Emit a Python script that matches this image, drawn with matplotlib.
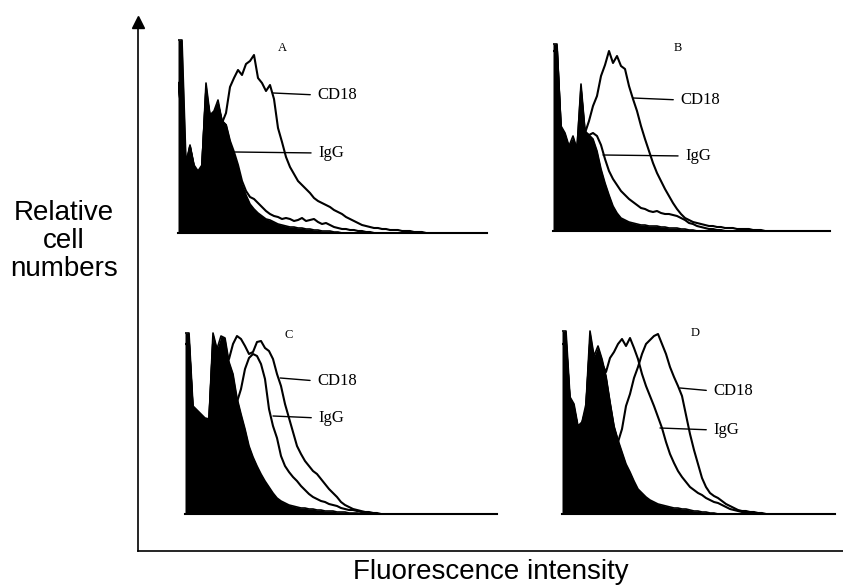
import numpy as np
import matplotlib.pyplot as plt

# relative cell counts per channel (one channel = 4 px)
a_ctrl = [193, 193, 70, 88, 68, 62, 68, 150, 118, 122, 133, 112, 108, 91, 78, 64, 48, 38, 29, 24,
          20, 17, 14, 13, 11, 9, 8, 7, 6, 6, 5, 5, 4, 4, 3, 3, 2, 2, 2, 1, 1, 0]
a_igg = [150, 120, 66, 86, 66, 60, 66, 140, 116, 120, 128, 112, 108, 92, 81, 68, 52, 42, 36, 34,
         30, 26, 22, 19, 17, 16, 14, 15, 14, 12, 13, 15, 12, 13, 14, 11, 9, 10, 8, 6,
         5, 4, 4, 3, 3, 2, 2, 1, 1, 0]
a_cd18 = [150, 120, 66, 86, 66, 60, 66, 140, 116, 120, 128, 110, 120, 146, 155, 163, 158, 169, 172, 178,
          155, 150, 142, 148, 134, 105, 91, 76, 66, 59, 52, 48, 44, 40, 35, 32, 30, 28, 26, 23,
          21, 19, 16, 14, 12, 10, 8, 7, 6, 5, 5, 4, 4, 3, 3, 3, 2, 2, 2, 1,
          1, 1, 0]

b_ctrl = [187, 187, 105, 98, 85, 95, 82, 147, 100, 96, 92, 80, 62, 48, 36, 25, 18, 13, 11, 9,
          8, 7, 6, 6, 5, 5, 5, 4, 4, 3, 3, 3, 2, 2, 1, 1, 0]
b_igg = [180, 180, 100, 95, 82, 90, 80, 120, 98, 96, 98, 95, 86, 72, 60, 52, 46, 40, 36, 32,
         29, 26, 23, 22, 20, 19, 20, 18, 17, 17, 16, 15, 13, 11, 8, 7, 5, 4, 3, 2,
         2, 1, 1, 0]
b_cd18 = [180, 180, 100, 95, 82, 90, 80, 140, 98, 110, 125, 135, 155, 166, 180, 168, 175, 165, 162, 145,
          132, 120, 105, 92, 80, 68, 58, 50, 42, 35, 28, 22, 17, 13, 11, 9, 8, 7, 6, 5,
          5, 4, 4, 3, 3, 3, 2, 2, 2, 2, 1, 1, 1, 0]

c_ctrl = [181, 181, 108, 104, 100, 96, 95, 181, 165, 178, 176, 152, 140, 116, 100, 85, 68, 57, 48, 40,
          33, 27, 21, 16, 13, 11, 9, 8, 7, 6, 6, 5, 5, 4, 4, 3, 3, 3, 2, 2,
          2, 1, 1, 1, 0]
c_igg = [170, 170, 100, 100, 98, 92, 90, 170, 160, 170, 160, 145, 130, 112, 125, 145, 156, 160, 158, 150,
         135, 105, 88, 76, 58, 48, 42, 37, 33, 28, 24, 20, 17, 15, 13, 12, 10, 9, 8, 6,
         5, 4, 4, 3, 2, 2, 1, 1, 0]
c_cd18 = [170, 170, 100, 100, 98, 92, 90, 170, 160, 170, 160, 155, 170, 178, 175, 168, 160, 162, 172, 173,
          166, 163, 155, 140, 128, 110, 96, 82, 68, 60, 53, 48, 43, 40, 35, 30, 25, 21, 17, 12,
          9, 7, 5, 4, 3, 2, 2, 1, 1, 0]

d_ctrl = [183, 183, 117, 110, 88, 92, 110, 183, 158, 168, 155, 138, 112, 88, 74, 62, 50, 42, 33, 25,
          21, 17, 14, 12, 10, 9, 8, 7, 6, 6, 5, 5, 4, 3, 3, 2, 2, 1, 1, 0]
d_igg = [170, 170, 110, 105, 85, 90, 105, 170, 150, 160, 150, 142, 156, 162, 170, 175, 168, 176, 166, 155,
         140, 128, 118, 108, 97, 86, 72, 60, 51, 43, 37, 32, 27, 24, 21, 19, 16, 14, 12, 11,
         9, 7, 5, 4, 3, 2, 2, 1, 0]
d_cd18 = [170, 170, 110, 105, 85, 90, 105, 170, 150, 160, 150, 135, 110, 86, 72, 85, 108, 120, 136, 147,
          160, 170, 174, 178, 180, 170, 160, 147, 137, 128, 118, 99, 80, 64, 50, 36, 27, 21, 18, 16,
          13, 10, 8, 6, 4, 3, 3, 2, 2, 1, 1, 0]

W, H = 843, 585
fig = plt.figure(figsize=(W / 100, H / 100), dpi=100)


def px_axes(left, base, width, height):
    return fig.add_axes([left / W, (H - base) / H, width / W, height / H])


# big L-shaped axis with arrow on top
ax = px_axes(138, 551, W - 138, 551 - 22)
ax.set_xticks([])
ax.set_yticks([])
for s in ["top", "right"]:
    ax.spines[s].set_visible(False)
for s in ["left", "bottom"]:
    ax.spines[s].set_linewidth(1.2)
ax.plot(0, 1, "^", color="k", ms=9, transform=ax.transAxes, clip_on=False)
ax.set_xlabel("Fluorescence intensity", family="Liberation Sans", fontsize=20, labelpad=6)
fig.text(64 / W, 1 - 241 / H, "Relative\ncell\nnumbers", family="Liberation Sans", fontsize=20,
         ha="center", va="center", linespacing=1.08)

serif = ["Liberation Serif", "DejaVu Serif"]


def panel(left, base, width, ctrl, igg, cd18, letter, lpos, cd_pt, cd_txt, ig_pt, ig_txt):
    a = px_axes(left, base, width, 195)
    a.patch.set_alpha(0)
    xc = np.arange(len(ctrl))
    a.fill_between(xc, ctrl, color="k", lw=0)
    a.plot(xc, ctrl, color="k", lw=1.2)
    a.plot(np.arange(len(igg)), igg, color="k", lw=1.5)
    a.plot(np.arange(len(cd18)), cd18, color="k", lw=1.5)
    a.set_xlim(0, width / 4)
    a.set_ylim(0, 195)
    a.set_xticks([])
    a.set_yticks([])
    for s in ["top", "right", "left"]:
        a.spines[s].set_visible(False)
    a.spines["bottom"].set_linewidth(1.5)
    a.text(lpos[0], lpos[1], letter, family=serif, fontsize=9, ha="center", va="center")
    arrow = dict(arrowstyle="-", lw=1, shrinkA=3, shrinkB=0, relpos=(0, 0.5))
    a.annotate("CD18", xy=cd_pt, xytext=cd_txt, family=serif, fontsize=12,
               ha="left", va="center", arrowprops=arrow)
    a.annotate("IgG", xy=ig_pt, xytext=ig_txt, family=serif, fontsize=12,
               ha="left", va="center", arrowprops=arrow)


panel(178, 233, 309, a_ctrl, a_igg, a_cd18, "A", (26, 185), (23.8, 140), (34.8, 138), (14.3, 81), (35, 80))
panel(553, 231, 277, b_ctrl, b_igg, b_cd18, "B", (31.3, 183), (20, 133), (31.8, 131), (12.5, 76), (33, 75))
panel(185, 514, 312, c_ctrl, c_igg, c_cd18, "C", (25.8, 179), (23.8, 136), (33, 133), (22, 98), (33.3, 96))
panel(562, 514, 273, d_ctrl, d_igg, d_cd18, "D", (33.3, 181), (29.5, 126), (37.8, 123), (24.5, 86), (37.8, 84))

fig.savefig("out.png", dpi=100)
